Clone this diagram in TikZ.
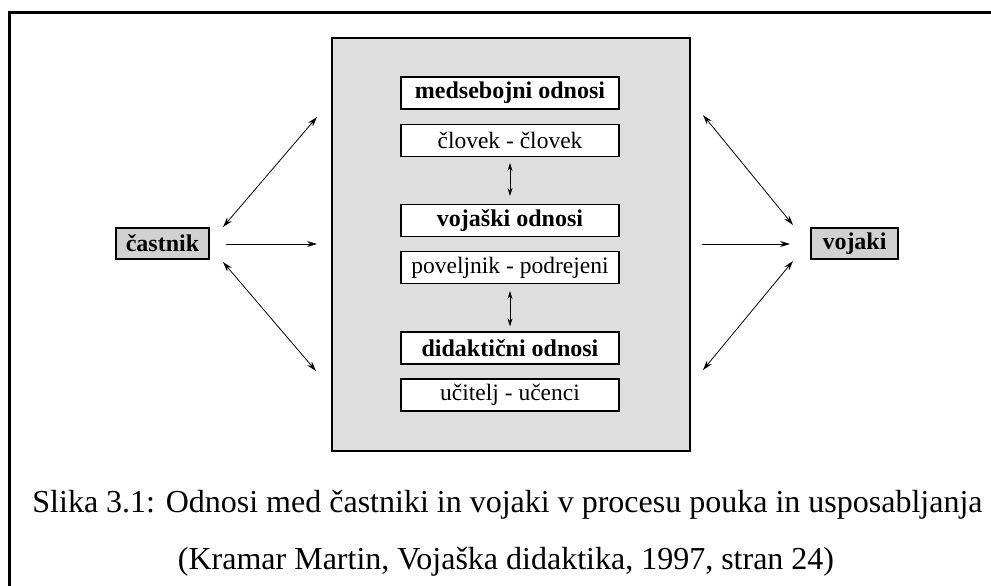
\documentclass[tikz,border=0pt]{standalone}
\usepackage{fontspec}
\setmainfont{Liberation Serif}
\usetikzlibrary{arrows.meta}

\begin{document}
\begin{tikzpicture}[x=1pt,y=-1pt,>={Stealth[length=10pt,width=6pt]},
  okvir/.style={draw,line width=1.6pt,fill=black!13,minimum width=358pt,minimum height=413pt,inner sep=0pt},
  naslov/.style={draw,line width=1.2pt,fill=white,minimum width=218pt,minimum height=32pt,inner sep=0pt,font=\fontsize{24}{28}\selectfont\bfseries},
  dvojica/.style={naslov,font=\fontsize{23.5}{28}\selectfont},
  oseba/.style={draw,line width=1.8pt,fill=black!18,minimum height=31pt,inner sep=3pt,font=\fontsize{24}{28}\selectfont\bfseries},
  puscica/.style={line width=0.8pt},
  kratka/.style={line width=0.8pt,>={Stealth[length=8pt,width=5pt]}}]
		\clip (0,0) rectangle (991,586);
		\draw[line width=3pt] (9,600) -- (9,13) -- (1000,13);

		\node[okvir] (okvir) at (511,244.5) {};
		\node[naslov] (n1) at (510,93) {medsebojni odnosi};
		\node[dvojica] (d1) at (510,140.5) {človek - človek};
		\node[naslov] (n2) at (510,220.5) {vojaški odnosi};
		\node[dvojica] (d2) at (510,267.5) {poveljnik - podrejeni};
		\node[naslov] (n3) at (510,348) {didaktični odnosi};
		\node[dvojica] (d3) at (510,395) {učitelj - učenci};

		\node[oseba,minimum width=93pt] (castnik) at (162.5,243.5) {častnik};
		\node[oseba,minimum width=87pt] (vojaki) at (854.5,243.5) {vojaki};

		\coordinate (lg) at (317,117);
		\coordinate (ls) at (317,244);
		\coordinate (ld) at (316,371);
		\coordinate (dg) at (703,115);
		\coordinate (ds) at (702,244);
		\coordinate (dd) at (703,370);
		\coordinate (cg) at (223,227);
		\coordinate (cs) at (226,244);
		\coordinate (cd) at (223,262);
		\coordinate (vg) at (793,225);
		\coordinate (vs) at (790,244);
		\coordinate (vd) at (793,261);

		\draw[puscica,<->] (cg) -- (lg);
		\draw[puscica,->] (cs) -- (ls);
		\draw[puscica,<->] (cd) -- (ld);
		\draw[puscica,<->] (dg) -- (vg);
		\draw[puscica,->] (ds) -- (vs);
		\draw[puscica,<->] (dd) -- (vd);

		\draw[kratka,<->,shorten <=6pt,shorten >=8pt] (d1) -- (n2);
		\draw[kratka,<->,shorten <=7pt,shorten >=5pt] (d2) -- (n3);

		\node[anchor=base,font=\fontsize{32}{38}\selectfont] (slika) at (507.5,512) {Slika 3.1: Odnosi med častniki in vojaki v procesu pouka in usposabljanja};
		\node[anchor=base,font=\fontsize{32}{38}\selectfont] (vir) at (506,569) {(Kramar Martin, Vojaška didaktika, 1997, stran 24)};
\end{tikzpicture}
\end{document}
